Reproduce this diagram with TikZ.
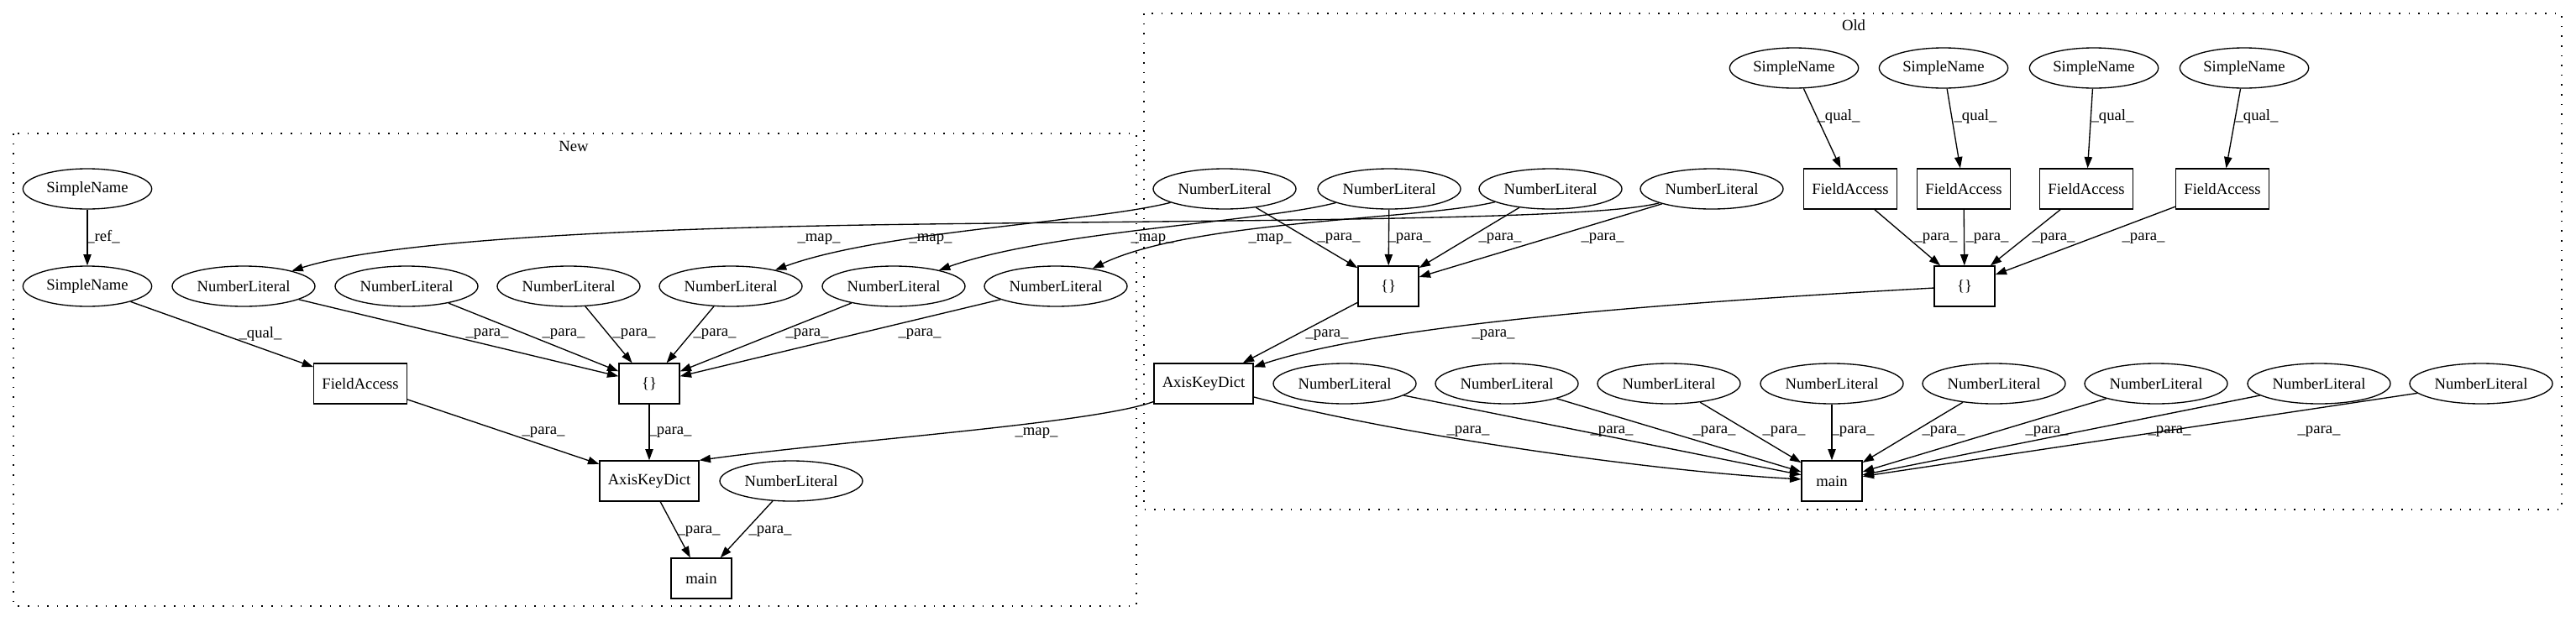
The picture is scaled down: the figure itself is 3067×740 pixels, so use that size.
\documentclass[tikz,border=0pt]{standalone}
\usepackage{fontspec}
\setmainfont{Liberation Serif}
\usetikzlibrary{shapes.geometric,arrows.meta}
\begin{document}
\begin{tikzpicture}[x=0.75pt,y=-0.75pt,
  every node/.style={font=\fontsize{14pt}{16.8pt}\selectfont},
  ell/.style={draw,ellipse,line width=1pt,inner sep=0pt,minimum height=36pt},
  nl/.style={ell,minimum width=127.5pt},
  sn/.style={ell,minimum width=115pt},
  bx/.style={draw,rectangle,line width=1pt,inner sep=0pt,minimum height=36pt},
  fa/.style={bx,minimum width=83pt},
  akd/.style={bx,minimum width=88.5pt},
  sq/.style={bx,minimum width=54pt},
  lbl/.style={inner sep=0pt},
  edge/.style={line width=1pt,-{Triangle[length=10pt,width=7pt]}},
  clus/.style={line width=1pt,dash pattern=on 1.2pt off 7.5pt}
]
\useasboundingbox (0,0) rectangle (3067,740);
% clusters
\draw[clus] (16,159) rectangle (1353,722);
\draw[clus] (1362,16) rectangle (3050,607);
\node[lbl] (newlbl) at (683,174) {New};
\node[lbl] (oldlbl) at (2207,30) {Old};
% New nodes
\node[sn] (nsn1) at (104,225) {SimpleName};
\node[sn] (nsn2) at (104,341) {SimpleName};
\node[nl] (nnl1) at (290,341) {NumberLiteral};
\node[nl] (nnl2) at (484,341) {NumberLiteral};
\node[nl] (nnl3) at (677,341) {NumberLiteral};
\node[nl] (nnl4) at (870,341) {NumberLiteral};
\node[nl] (nnl5) at (1064,341) {NumberLiteral};
\node[nl] (nnl6) at (1257,341) {NumberLiteral};
\node[fa] (nfa) at (429,457) {FieldAccess};
\node[sq] (nbr) at (773,457) {\{\}};
\node[akd] (nakd) at (773,573) {AxisKeyDict};
\node[nl] (nnl7) at (942,573) {NumberLiteral};
\node[sq] (nmain) at (835,689) {main};
% Old nodes
\node[sn] (osn1) at (2136,81) {SimpleName};
\node[sn] (osn2) at (2314,81) {SimpleName};
\node[sn] (osn3) at (2493,81) {SimpleName};
\node[sn] (osn4) at (2672,81) {SimpleName};
\node[fa] (ofa1) at (2203,225) {FieldAccess};
\node[fa] (ofa2) at (2338,225) {FieldAccess};
\node[fa] (ofa3) at (2484,225) {FieldAccess};
\node[fa] (ofa4) at (2646,225) {FieldAccess};
\node[nl] (onl1) at (1458,225) {NumberLiteral};
\node[nl] (onl2) at (1654,225) {NumberLiteral};
\node[nl] (onl3) at (1846,225) {NumberLiteral};
\node[nl] (onl4) at (2038,225) {NumberLiteral};
\node[sq] (obr1) at (1653,341) {\{\}};
\node[sq] (obr2) at (2339,341) {\{\}};
\node[akd] (oakd) at (1433,457) {AxisKeyDict};
\node[nl] (obl1) at (1601,457) {NumberLiteral};
\node[nl] (obl2) at (1794,457) {NumberLiteral};
\node[nl] (obl3) at (1987,457) {NumberLiteral};
\node[nl] (obl4) at (2181,457) {NumberLiteral};
\node[nl] (obl5) at (2374,457) {NumberLiteral};
\node[nl] (obl6) at (2567,457) {NumberLiteral};
\node[nl] (obl7) at (2761,457) {NumberLiteral};
\node[nl] (obl8) at (2954,457) {NumberLiteral};
\node[sq] (omain) at (2181,573) {main};
% New edges
\draw[edge] (nsn1) -- (nsn2);
\draw[edge] (nsn2) -- (nfa);
\foreach \i in {1,...,6} {\draw[edge] (nnl\i) -- (nbr);}
\draw[edge] (nfa) -- (nakd);
\draw[edge] (nbr) -- (nakd);
\draw[edge] (nakd) -- (nmain);
\draw[edge] (nnl7) -- (nmain);
% map edges
\draw[edge] (onl4) .. controls (1900,262) and (1500,262) .. (1100,267) .. controls (700,272) and (450,290) .. (nnl1);
\draw[edge] (onl1) .. controls (1300,265) and (1050,275) .. (nnl4);
\draw[edge] (onl2) .. controls (1500,265) and (1250,275) .. (nnl5);
\draw[edge] (onl3) .. controls (1690,262) and (1420,262) .. (nnl6);
\draw[edge] (oakd) .. controls (1300,505) and (1000,525) .. (nakd.north east);
% Old edges
\foreach \i in {1,...,4} {\draw[edge] (osn\i) -- (ofa\i);}
\foreach \i in {1,...,4} {\draw[edge] (ofa\i) -- (obr2);}
\foreach \i in {1,...,4} {\draw[edge] (onl\i) -- (obr1);}
\draw[edge] (obr1) -- (oakd);
\draw[edge] (obr2) .. controls (2000,360) and (1650,385) .. (oakd);
\draw[edge] (oakd) .. controls (1650,515) and (1950,560) .. (omain);
\foreach \i in {1,...,8} {\draw[edge] (obl\i) -- (omain);}
% labels New
\node[lbl] (lref) at (123,282) {\_ref\_};
\node[lbl] (lqn) at (310,398) {\_qual\_};
\node[lbl] (lp1) at (580,398) {\_para\_};
\node[lbl] (lp2) at (671,398) {\_para\_};
\node[lbl] (lp3) at (755,398) {\_para\_};
\node[lbl] (lp4) at (851,398) {\_para\_};
\node[lbl] (lp5) at (961,398) {\_para\_};
\node[lbl] (lp6) at (1095,398) {\_para\_};
\node[lbl] (lp7) at (647,515) {\_para\_};
\node[lbl] (lp8) at (798,515) {\_para\_};
\node[lbl] (lp9) at (832,633) {\_para\_};
\node[lbl] (lp10) at (917,633) {\_para\_};
\node[lbl] (lm1) at (975,285) {\_map\_};
\node[lbl] (lm2) at (1108,285) {\_map\_};
\node[lbl] (lm3) at (1372,285) {\_map\_};
\node[lbl] (lm4) at (1512,285) {\_map\_};
\node[lbl] (lm5) at (1234,516) {\_map\_};
% labels Old
\node[lbl] (lq1) at (2189,139) {\_qual\_};
\node[lbl] (lq2) at (2352,139) {\_qual\_};
\node[lbl] (lq3) at (2515,139) {\_qual\_};
\node[lbl] (lq4) at (2687,139) {\_qual\_};
\node[lbl] (lo1) at (1594,284) {\_para\_};
\node[lbl] (lo2) at (1678,284) {\_para\_};
\node[lbl] (lo3) at (1786,284) {\_para\_};
\node[lbl] (lo4) at (1908,284) {\_para\_};
\node[lbl] (lo5) at (2305,284) {\_para\_};
\node[lbl] (lo6) at (2366,284) {\_para\_};
\node[lbl] (lo7) at (2445,284) {\_para\_};
\node[lbl] (lo8) at (2552,284) {\_para\_};
\node[lbl] (lo9) at (1580,399) {\_para\_};
\node[lbl] (lo10) at (1778,399) {\_para\_};
\node[lbl] (lb1) at (1748,514) {\_para\_};
\node[lbl] (lb2) at (1919,514) {\_para\_};
\node[lbl] (lb3) at (2041,514) {\_para\_};
\node[lbl] (lb4) at (2124,514) {\_para\_};
\node[lbl] (lb5) at (2206,514) {\_para\_};
\node[lbl] (lb6) at (2314,514) {\_para\_};
\node[lbl] (lb7) at (2437,514) {\_para\_};
\node[lbl] (lb8) at (2583,514) {\_para\_};
\node[lbl] (lb9) at (2761,514) {\_para\_};
\end{tikzpicture}
\end{document}
